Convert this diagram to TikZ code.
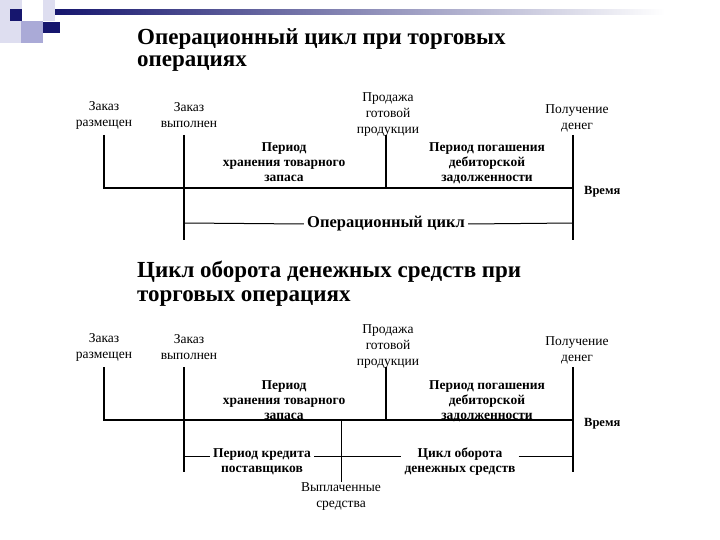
\documentclass[tikz,border=0pt]{standalone}
\usepackage{fontspec}
\setmainfont{Liberation Serif}
\usetikzlibrary{positioning, calc}

\definecolor{slidenavy}{RGB}{22,22,110}
\definecolor{slidelav}{RGB}{170,170,215}
\definecolor{slidepale}{RGB}{222,222,240}

\tikzset{
  event/.style={align=center, font=\fontsize{13.5}{16}\selectfont, inner sep=1pt},
  period/.style={align=center, font=\bfseries\fontsize{13.5}{15}\selectfont, inner sep=1pt},
  heading/.style={anchor=base west, align=left, inner sep=0pt},
  axis/.style={line width=2.8pt, line join=miter},
  tick/.style={line width=2.6pt},
  span/.style={line width=1pt},
}

\begin{document}
\begin{tikzpicture}[x=1pt, y=-1pt]
  \useasboundingbox[fill=white] (0,0) rectangle (720,540);

  % slide decoration
  \fill[slidepale] (0,0) rectangle (22,43);
  \fill[slidepale] (43,0) rectangle (55,21);
  \fill[slidelav] (21,21) rectangle (43,43);
  \fill[slidenavy] (10,9) rectangle (22,21);
  \fill[slidenavy] (43,22) rectangle (60,33);
  \shade[left color=slidenavy, right color=white] (55,10) rectangle (665,15);

  % titles (base = baseline of the last line)
  \node[heading, font=\bfseries\fontsize{23}{22}\selectfont] (title1) at (137,67) {Операционный цикл при торговых\\операциях};
  \node[heading, font=\bfseries\fontsize{23}{24}\selectfont] (title2) at (137,301) {Цикл оборота денежных средств при\\торговых операциях};

  % timelines shared by both diagrams
  \foreach \d/\y/\p in {a/188/26, b/420/20} {
    \coordinate (\d0) at (104,\y);
    \coordinate (\d1) at (184,\y);
    \coordinate (\d2) at (386,\y);
    \coordinate (\d3) at (573,\y);
    \foreach \i in {0,...,3}
      \coordinate (\d\i t) at ($(\d\i)+(0,-53)$);

    \node[event] (\d-placed) at (104,\y-73) {Заказ\\размещен};
    \node[event] (\d-done) at (189,\y-73) {Заказ\\выполнен};
    \node[event] (\d-sale) at (388,\y-73) {Продажа\\готовой\\продукции};
    \node[event] (\d-cash) at (577,\y-70) {Получение\\денег};

    \draw[axis] (\d0t) -- (\d0) -- (\d3);
    \draw[tick] (\d1t) -- (\d1);
    \draw[tick] (\d2t) -- (\d2);
    \draw[tick] (\d3t) -- ($(\d3)+(0,52)$);
    \draw[line width=2pt] (\d1) -- ($(\d1)+(0,52)$);

    \node[period] (\d-stock) at (284,\y-\p) {Период\\хранения товарного\\запаса};
    \node[period] (\d-debt) at (487,\y-\p+1) {Период погашения\\дебиторской\\задолженности};
    \node[period, anchor=west, font=\bfseries\fontsize{12.5}{15}\selectfont] (\d-time) at (583,\y+4) {Время};
  }

  % operating cycle
  \coordinate (opl) at (184,223);
  \coordinate (opr) at (573,223);
  \node[font=\bfseries\fontsize{16.5}{18}\selectfont, inner sep=3pt] (opcycle) at (386,224) {Операционный цикл};
  \draw[span] (opl) -- (opcycle.west);
  \draw[span] (opcycle.east) -- (opr);

  % cash conversion cycle
  \coordinate (ccl) at (184,456);
  \coordinate (ccr) at (573,456);
  \coordinate (paid) at (341,420);
  \node[period, inner sep=3pt] (credit) at (262,462) {Период кредита\\поставщиков};
  \node[period, inner sep=3pt] (cashcycle) at (460,462) {Цикл оборота\\денежных средств};
  \node[event] (paidtext) at (341,497) {Выплаченные\\средства};
  \draw[span] (ccl) -- (ccl -| credit.west);
  \draw[span] (ccl -| credit.east) -- (ccl -| cashcycle.west);
  \draw[span] (ccr -| cashcycle.east) -- (ccr);
  \draw[span] (paid) -- (paidtext.north);
\end{tikzpicture}
\end{document}
